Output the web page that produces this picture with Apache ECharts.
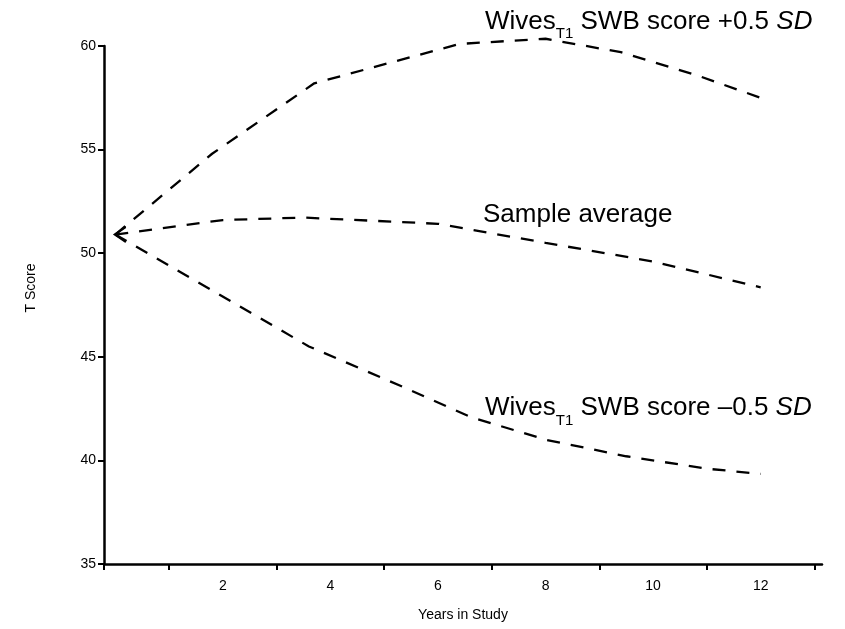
<!DOCTYPE html>
<html>
<head>
<meta charset="utf-8">
<script src="https://cdn.jsdelivr.net/npm/echarts@6/dist/echarts.min.js"></script>
<style>
  html, body { margin: 0; padding: 0; background: #fff; }
  #chart { width: 845px; height: 629px; }
</style>
</head>
<body>
<div id="chart"></div>
<script>
// data: [years in study, T score]
var upperLine = [[0, 50.9], [1.8, 54.8], [3.7, 58.2], [6.4, 60.1], [8, 60.35], [9.4, 59.7], [10.8, 58.6], [12, 57.5]];
var averageLine = [[0, 50.9], [2, 51.6], [3.5, 51.72], [6, 51.42], [8, 50.5], [10, 49.6], [12, 48.35]];
var lowerLine = [[0, 50.9], [1.8, 48.2], [3.6, 45.5], [5.3, 43.6], [6.6, 42.1], [8, 41.0], [9.5, 40.2], [11, 39.6], [12, 39.35]];
var xTickValues = [-0.21, 1, 3, 5, 7, 9, 11, 13];
var xLabelValues = [2, 4, 6, 8, 10, 12];
var annotations = ['Wives{sub|T1} SWB score +0.5 {it|SD}', 'Sample average', 'Wives{sub|T1} SWB score \u20130.5 {it|SD}'];

var FONT = 'Liberation Sans';
var arrowPath = 'path://M12,0 L0,7 L12,14';

function dashed(data, withArrow) {
	var d = data.map(function (p, i) {
		if (i === 0 && withArrow) {
			return { value: p, symbol: arrowPath, symbolSize: [11, 15], symbolOffset: [5, 0] };
		}
		return { value: p, symbol: 'none' };
	});
	return {
		type: 'line',
		data: d,
		showSymbol: true,
		symbol: 'none',
		clip: false,
		itemStyle: { color: 'none', borderColor: '#000', borderWidth: 2 },
		lineStyle: { color: '#000', width: 2.3, type: [13, 11] },
		silent: true
	};
}

function noteStyle(text) {
	return {
		text: text,
		fill: '#000',
		font: '26px "' + FONT + '"',
		fontSize: 26,
		fontFamily: FONT,
		lineHeight: 40,
		rich: {
			sub: { fontSize: 15, fontFamily: FONT, lineHeight: 15, verticalAlign: 'bottom', fill: '#000' },
			it: { fontSize: 26, fontFamily: FONT, fontStyle: 'italic', lineHeight: 40, fill: '#000' }
		}
	};
}

var myChart = echarts.init(document.getElementById('chart'));
var option = {
	animation: false,
	backgroundColor: '#fff',
	textStyle: { fontFamily: FONT },
	grid: { left: 104, right: 23, top: 46, bottom: 65 },
	xAxis: {
		type: 'value',
		min: -0.21,
		max: 13.14,
		name: 'Years in Study',
		nameLocation: 'middle',
		nameGap: 44,
		nameTextStyle: { fontSize: 14, color: '#000', fontFamily: FONT },
		splitLine: { show: false },
		axisLine: { onZero: false, lineStyle: { color: '#000', width: 2.5 } },
		axisTick: { customValues: xTickValues, length: 6, lineStyle: { color: '#000', width: 2 } },
		axisLabel: { customValues: xLabelValues, margin: 15, fontSize: 14, color: '#000', fontFamily: FONT }
	},
	yAxis: {
		type: 'value',
		min: 35,
		max: 60,
		interval: 5,
		name: 'T Score',
		nameLocation: 'middle',
		nameRotate: 90,
		nameGap: 66,
		nameTextStyle: { fontSize: 14, color: '#000', fontFamily: FONT, padding: [0, 0, 0, 34] },
		splitLine: { show: false },
		axisLine: { show: true, onZero: false, lineStyle: { color: '#000', width: 2.5 } },
		axisTick: { show: true, length: 6, lineStyle: { color: '#000', width: 2 } },
		axisLabel: { margin: 8, fontSize: 14, color: '#000', fontFamily: FONT }
	},
	graphic: [
		{ type: 'text', x: 485, y: 1.5, silent: true, style: noteStyle(annotations[0]) },
		{ type: 'text', x: 483, y: 194.5, silent: true, style: noteStyle(annotations[1]) },
		{ type: 'text', x: 485, y: 388, silent: true, style: noteStyle(annotations[2]) }
	],
	series: [
		dashed(upperLine, false),
		dashed(averageLine, true),
		dashed(lowerLine, false)
	]
};
myChart.setOption(option, true);
</script>
</body>
</html>
